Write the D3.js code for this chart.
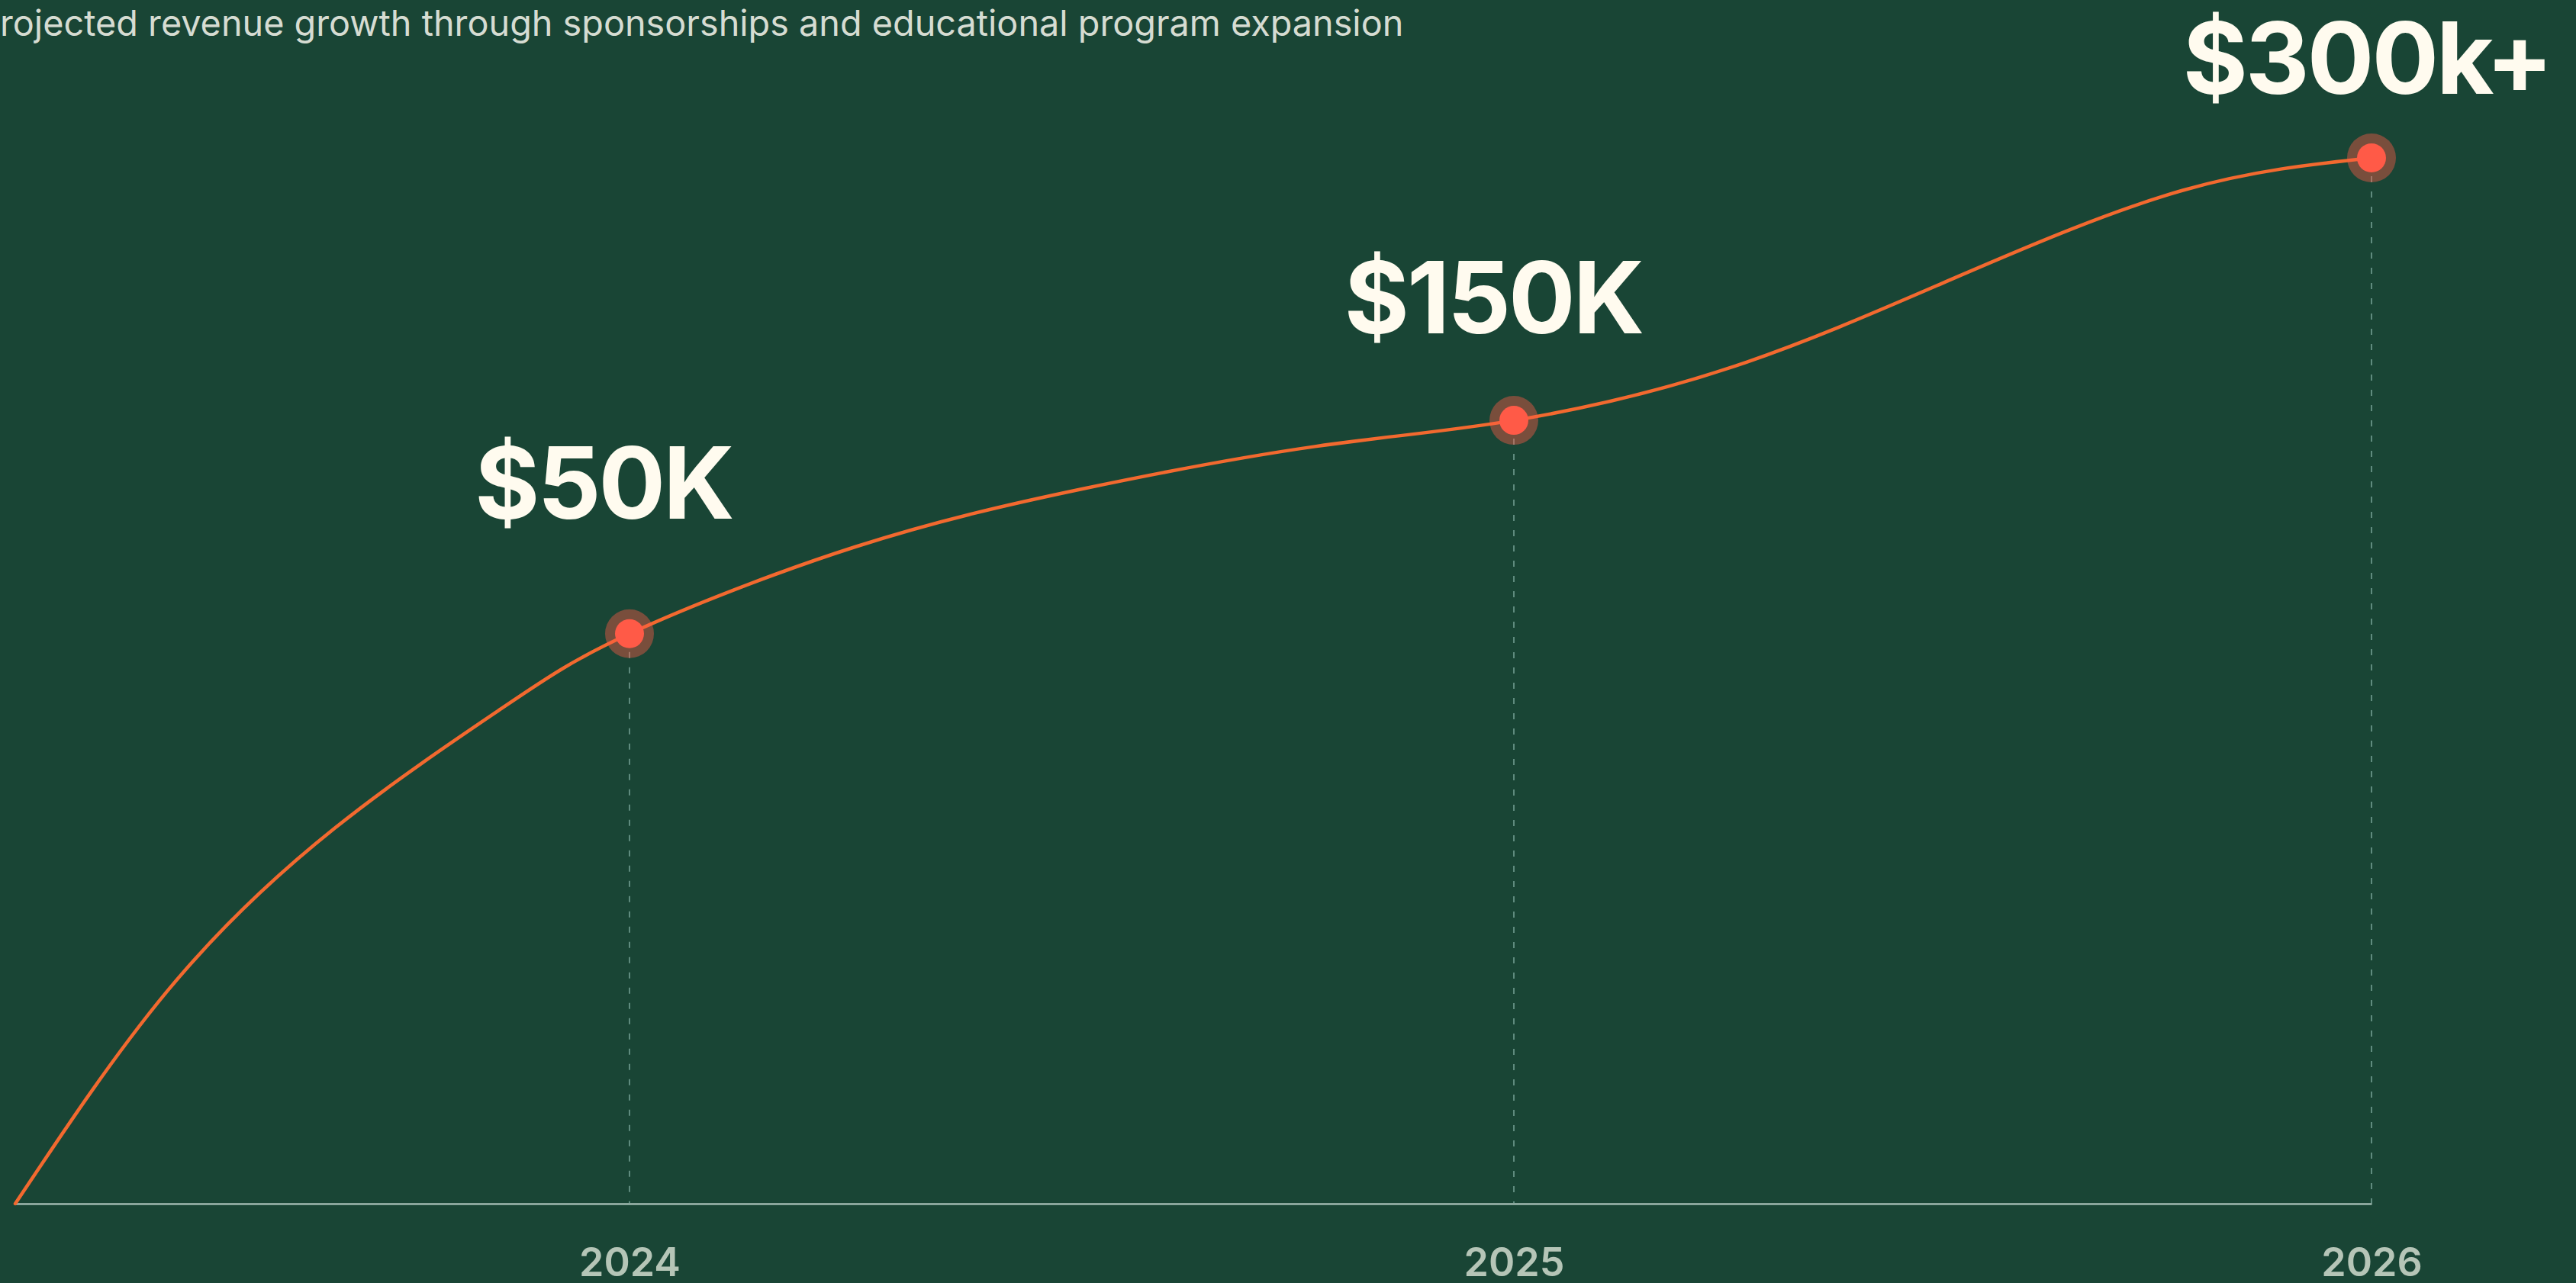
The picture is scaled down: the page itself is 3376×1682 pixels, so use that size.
<!DOCTYPE html>
<html>
<head>
<meta charset="utf-8">
<script src="https://cdn.jsdelivr.net/npm/d3@7"></script>
<style>
  html, body { margin: 0; padding: 0; background: #194535; overflow: hidden; }
  svg { display: block; }
</style>
</head>
<body>
<svg id="chart" width="3376" height="1682"></svg>
<script>
// ---------------- DATA ----------------
const subtitle = "Projected revenue growth through sponsorships and educational program expansion";
const tickYears = [2024, 2025, 2026];
const milestoneYears = [2024, 2025, 2026];
const milestoneLevels = [54.5, 74.9, 100];          // relative height of the growth curve (0-100)
const milestoneLabels = ["$50K", "$150K", "$300k+"];
// growth curve (fractional year, relative level)
const trendYears  = [2023.300, 2023.473, 2023.664, 2023.855, 2024.000,
                     2024.255, 2024.515, 2024.775, 2025.000,
                     2025.258, 2025.519, 2025.780, 2026.000];
const trendLevels = [0, 20.3, 35.9, 47.4, 54.5,
                     62.8, 68.4, 72.4, 74.9,
                     80.1, 88.7, 96.9, 100];

// ---------------- LAYOUT ----------------
const W = 3376, H = 1682;
const baseY = 1578, topY = 207;
const labelDx = [-34, -27, -6];
const labelDy = [-151, -114, -84];

const svg = d3.select("#chart");
svg.append("rect").attr("width", W).attr("height", H).attr("fill", "#194535");

const x = d3.scaleLinear()
  .domain([2023.3, 2024, 2025, 2026])
  .range([20, 825, 1984, 3108]);
const y = d3.scaleLinear().domain([0, 100]).range([baseY, topY]);

// subtitle (left edge clipped like the reference)
const sub = svg.append("text")
  .attr("font-family", "Inter, 'Noto Sans', sans-serif")
  .attr("font-size", 46)
  .attr("fill", "#d6dcd2")
  .attr("y", 47)
  .text(subtitle);
{
  const node = sub.node();
  let w = node.getSubStringLength(1, subtitle.length - 1);
  const fs = 46 * 1840 / w;
  sub.attr("font-size", fs);
  const pw = node.getSubStringLength(0, 1);
  sub.attr("x", -pw);
}

const milestones = milestoneYears.map((yr, i) => ({ year: yr, level: milestoneLevels[i], label: milestoneLabels[i], i }));

// dashed drop lines
svg.append("g").selectAll("line").data(milestones).join("line")
  .attr("x1", d => x(d.year)).attr("x2", d => x(d.year))
  .attr("y1", d => y(d.level) + 24).attr("y2", baseY)
  .attr("stroke", "#5f8b7e").attr("stroke-width", 2)
  .attr("stroke-dasharray", "8 12");

// axis
const axis = d3.axisBottom(x).tickValues(tickYears).tickFormat(d3.format("d")).tickSize(0).tickPadding(58);
const gx = svg.append("g").attr("transform", `translate(0,${baseY})`).call(axis);
gx.select(".domain").attr("stroke", "#8aa69c").attr("stroke-width", 3);
gx.selectAll("text")
  .attr("font-family", "Inter, 'Noto Sans', sans-serif")
  .attr("font-size", 52).attr("font-weight", 600)
  .attr("fill", "#b5c5b7");

// curve
const trend = trendYears.map((yr, i) => ({ year: yr, level: trendLevels[i] }));
const line = d3.line().x(d => x(d.year)).y(d => y(d.level)).curve(d3.curveNatural);
svg.append("path").datum(trend)
  .attr("d", line)
  .attr("fill", "none")
  .attr("stroke", "#f2692f")
  .attr("stroke-width", 4.5)
  .attr("stroke-linecap", "round");

// points
const pts = svg.append("g").selectAll("g").data(milestones).join("g")
  .attr("transform", d => `translate(${x(d.year)},${y(d.level)})`);
pts.append("circle").attr("r", 32).attr("fill", "rgba(255,90,72,0.42)");
pts.append("circle").attr("r", 19).attr("fill", "#ff5a47");

// labels
svg.append("g").selectAll("text").data(milestones).join("text")
  .attr("x", d => x(d.year) + labelDx[d.i])
  .attr("y", d => y(d.level) + labelDy[d.i])
  .attr("text-anchor", "middle")
  .attr("font-family", "Inter, 'Noto Sans', sans-serif")
  .attr("font-size", 130).attr("font-weight", 700)
  .attr("letter-spacing", -3)
  .attr("fill", "#fffbef")
  .text(d => d.label);
</script>
</body>
</html>
